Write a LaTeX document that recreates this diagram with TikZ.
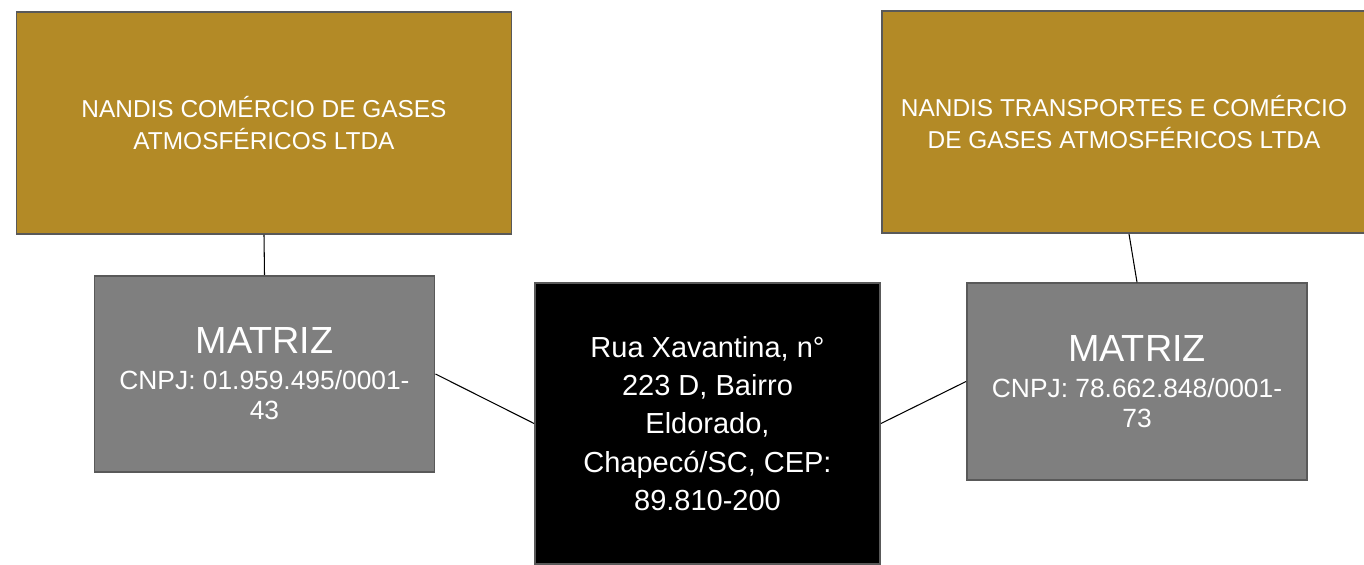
\documentclass[tikz,border=0pt]{standalone}
\usepackage{fontspec}
\setmainfont{Liberation Sans}
\definecolor{gold}{HTML}{B38A26}
\definecolor{boxgray}{HTML}{7F7F7F}
\definecolor{edgegray}{HTML}{595959}
\newcommand{\bigmatriz}{\fontsize{21.5}{21.5}\selectfont}
\newcommand{\cnpjfont}{\fontsize{15}{17}\selectfont}
\tikzset{
  firmbox/.style={draw=edgegray,line width=1.1pt,fill=gold,text=white,
    minimum width=9.9cm,minimum height=4.44cm,align=center,
    font=\fontsize{13.9}{18}\selectfont},
  matrizbox/.style={draw=edgegray,line width=1.1pt,fill=boxgray,text=white,
    minimum width=6.8cm,minimum height=3.93cm,align=center,font=\cnpjfont},
  addrbox/.style={draw=edgegray,line width=1.1pt,fill=black,text=white,
    minimum width=6.9cm,minimum height=5.62cm,align=center,
    font=\fontsize{16.5}{21.8}\selectfont}
}
\begin{document}
\begin{tikzpicture}
    \useasboundingbox (0,0) rectangle (27.28,11.3);
    \node[firmbox] (goldL) at (5.28,8.84)
      {NANDIS COMÉRCIO DE GASES\\ATMOSFÉRICOS LTDA};
    \node[firmbox,minimum width=9.68cm] (goldR) at (22.48,8.86)
      {NANDIS TRANSPORTES E COMÉRCIO\\DE GASES ATMOSFÉRICOS LTDA};

    \node[matrizbox] (matL) at (5.29,3.82)
      {{\bigmatriz MATRIZ}\\[3.4pt]CNPJ: 01.959.495/0001-\\43};
    \node[matrizbox] (matR) at (22.74,3.67)
      {{\bigmatriz MATRIZ}\\[3.4pt]CNPJ: 78.662.848/0001-\\73};

    \node[addrbox] (addr) at (14.15,2.83)
      {Rua Xavantina, n°\\223 D, Bairro\\Eldorado,\\Chapecó/SC, CEP:\\89.810-200};

    \draw[line width=0.6pt] (goldL.south) -- (matL.north);
    \draw[line width=0.6pt] ([xshift=0.1cm]goldR.south) -- (matR.north);
    \draw[line width=0.6pt] (matL.east) -- (addr.west);
    \draw[line width=0.6pt] (addr.east) -- (matR.west);
\end{tikzpicture}
\end{document}
